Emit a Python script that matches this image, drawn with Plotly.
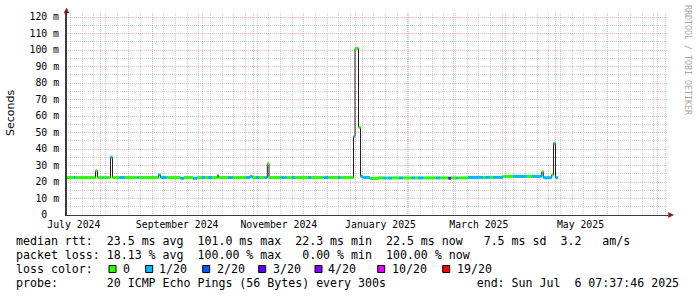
import plotly.graph_objects as go
from datetime import datetime, timedelta

# ------------------------------------------------------------------ data
graph_start = "2024-07-11 07:37:46"
graph_end = "2025-07-06 07:37:46"

# median RTT runs (start time, median ms, lost pings out of 20)
run_start = [
    "2024-07-11 07:37", "2024-07-16 03:00", "2024-07-17 00:30", "2024-07-29 00:30",
    "2024-07-30 05:00", "2024-08-02 08:00", "2024-08-02 22:30", "2024-08-07 00:30",
    "2024-08-08 05:00", "2024-08-12 07:00", "2024-08-15 17:00", "2024-08-23 05:00",
    "2024-08-24 03:00", "2024-09-04 19:30", "2024-09-06 00:30", "2024-09-09 18:00",
    "2024-09-18 00:30", "2024-09-20 03:00", "2024-09-25 12:30", "2024-09-27 22:00",
    "2024-09-30 17:45", "2024-10-02 17:15", "2024-10-04 12:30", "2024-10-06 22:00",
    "2024-10-10 05:00", "2024-10-10 19:40", "2024-10-16 12:30", "2024-10-19 12:30",
    "2024-10-27 07:40", "2024-10-29 17:15", "2024-10-31 05:15", "2024-11-02 07:40",
    "2024-11-04 03:00", "2024-11-07 07:10", "2024-11-09 02:20", "2024-11-10 03:00",
    "2024-11-17 03:20", "2024-11-19 07:10", "2024-11-19 17:15", "2024-11-20 17:45",
    "2024-11-23 17:45", "2024-11-25 17:15", "2024-12-03 12:25", "2024-12-05 07:40",
    "2024-12-12 16:50", "2024-12-15 16:50", "2024-12-21 12:25", "2024-12-23 03:20",
    "2024-12-30 19:40", "2024-12-31 17:15", "2025-01-02 19:35", "2025-01-04 00:25",
    "2025-01-05 12:25", "2025-01-09 17:15", "2025-01-14 12:25", "2025-01-17 12:30",
    "2025-01-19 12:00", "2025-01-20 12:00", "2025-01-22 22:00", "2025-01-27 03:00",
    "2025-01-29 12:30", "2025-02-03 17:40", "2025-02-05 17:15", "2025-02-07 12:30",
    "2025-02-10 16:50", "2025-02-18 07:40", "2025-02-20 17:15", "2025-02-25 16:50",
    "2025-02-27 07:40", "2025-03-02 07:40", "2025-03-03 12:25", "2025-03-09 12:25",
    "2025-03-18 12:25", "2025-03-19 17:15", "2025-03-22 17:15", "2025-03-24 12:30",
    "2025-03-30 12:30", "2025-04-05 12:25", "2025-04-13 22:00", "2025-04-16 22:00",
    "2025-04-22 17:45", "2025-04-23 16:50", "2025-04-28 17:45", "2025-04-29 19:40",
    "2025-05-01 00:25",
]
run_ms = [
    22.7, 22.7, 22.7, 26.8,
    22.7, 22.7, 22.7, 35.1,
    22.7, 22.7, 22.7, 22.7,
    22.7, 24.3, 22.7, 22.7,
    22.2, 22.7, 22.2, 22.7,
    22.7, 22.7, 22.7, 22.7,
    24.0, 22.7, 22.7, 22.7,
    22.7, 23.4, 22.7, 22.7,
    22.7, 22.7, 31.1, 22.7,
    22.7, 22.7, 22.7, 22.7,
    22.7, 22.7, 22.7, 22.7,
    22.7, 22.7, 22.7, 22.7,
    47.6, 101.0, 53.1, 23.4,
    22.7, 22.1, 22.5, 22.4,
    22.4, 22.4, 22.5, 22.5,
    22.5, 22.5, 22.5, 22.5,
    22.5, 22.5, 22.5, 22.3,
    22.5, 22.5, 22.5, 22.8,
    22.8, 22.8, 22.8, 22.8,
    23.4, 23.4, 23.4, 23.4,
    26.2, 22.6, 24.3, 43.4,
    22.6,
]
run_loss = [
    0, 1, 0, 0,
    0, 1, 0, 1,
    0, 1, 0, 1,
    0, 1, 1, 0,
    1, 0, 1, 0,
    1, 0, 1, 0,
    1, 0, 1, 0,
    1, 1, 0, 1,
    0, 1, 0, 0,
    1, 0, 1, 0,
    1, 0, 1, 0,
    1, 0, 1, 0,
    1, 0, 0, 1,
    1, 0, 0, 1,
    0, 1, 0, 1,
    0, 1, 0, 1,
    0, 1, 0, 3,
    0, 1, 0, 1,
    0, 1, 0, 1,
    0, 1, 0, 1,
    0, 1, 0, 1,
    1,
]
data_end = "2025-05-02 12:30"

loss_steps = [0, 1, 2, 3, 4, 10, 19]
loss_labels = ["0", "1/20", "2/20", "3/20", "4/20", "10/20", "19/20"]
loss_colors = ["#26ff00", "#00b8ff", "#0059ff", "#5e00ff", "#7e00ff", "#dd00ff", "#ff0000"]

x_tick_dates = ["2024-07-16", "2024-09-16", "2024-11-16", "2025-01-16", "2025-03-16", "2025-05-16"]
x_tick_labels = ["July 2024", "September 2024", "November 2024", "January 2025", "March 2025", "May 2025"]
y_tick_vals = [0, 10, 20, 30, 40, 50, 60, 70, 80, 90, 100, 110, 120]
y_tick_labels = ["0  ", "10 m", "20 m", "30 m", "40 m", "50 m", "60 m", "70 m",
                 "80 m", "90 m", "100 m", "110 m", "120 m"]

stat_rtt = "median rtt:  23.5 ms avg  101.0 ms max  22.3 ms min  22.5 ms now   7.5 ms sd  3.2   am/s"
stat_loss = "packet loss: 18.13 % avg  100.00 % max   0.00 % min  100.00 % now"
loss_title = "loss color:"
probe_line = "probe:       20 ICMP Echo Pings (56 Bytes) every 300s             end: Sun Jul  6 07:37:46 2025"
y_title = "Seconds"
watermark = "RRDTOOL / TOBI OETIKER"

# ------------------------------------------------------------------ layout constants
W, H = 697, 297
L, R, T, B = 66, 668, 13, 215
PW, PH = R - L, B - T
PX_PER_MS = 1.65
PX_PER_DAY = 600 / 360.0

MONO = "DejaVu Sans Mono"
GRID = "rgba(150,150,150,0.45)"
MGRID = "rgba(225,90,90,0.45)"
AXIS = "#3a3a3a"
ARROW = "#8b1a1a"


def nb(s):
    return s.replace(" ", "\u00a0")


def pxx(x):
    return (x - L) / PW


def pxy(y):
    return (B - y) / PH


t0 = datetime.strptime(graph_start, "%Y-%m-%d %H:%M:%S")
x_range = [t0, t0 + timedelta(days=PW / PX_PER_DAY)]
y_range = [0, PH / PX_PER_MS]

fig = go.Figure()

# thin dark median line (shows the vertical jumps)
fig.add_trace(go.Scatter(
    x=run_start + [data_end], y=run_ms + [run_ms[-1]],
    mode="lines", line=dict(color="#202020", width=1, shape="hv"),
    hoverinfo="skip", showlegend=False,
))

ends = run_start[1:] + [data_end]
for step, color in zip(loss_steps, loss_colors):
    xs, ys = [], []
    for s, e, v, l in zip(run_start, ends, run_ms, run_loss):
        if l == step:
            xs += [s, e, None]
            ys += [v, v, None]
    if xs:
        fig.add_trace(go.Scatter(
            x=xs, y=ys, mode="lines", line=dict(color=color, width=3),
            connectgaps=False, hoverinfo="skip", showlegend=False,
        ))

# dummy trace for the label axis
fig.add_trace(go.Scatter(x=[x_tick_dates[0]], y=[None], xaxis="x2", mode="markers",
                         hoverinfo="skip", showlegend=False))

fig.update_layout(
    width=W, height=H, autosize=False,
    margin=dict(l=L, r=W - R, t=T, b=H - B, pad=0),
    paper_bgcolor="white", plot_bgcolor="white",
    showlegend=False,
    font=dict(family=MONO, size=9.8, color="#000000"),
    xaxis=dict(
        type="date", range=x_range, fixedrange=True,
        tickmode="linear", tick0="2024-08-01", dtick="M1",
        showticklabels=False, ticks="",
        showgrid=True, gridcolor=MGRID, gridwidth=1, griddash="1px,1px",
        minor=dict(tickmode="linear", tick0="2024-07-14", dtick=7 * 86400000,
                   showgrid=True, gridcolor=GRID, gridwidth=1, griddash="1px,1px"),
        showline=True, linecolor=AXIS, linewidth=1, zeroline=False,
    ),
    xaxis2=dict(
        type="date", range=x_range, overlaying="x", side="bottom", anchor="y",
        tickmode="array", tickvals=x_tick_dates, ticktext=[nb(t) for t in x_tick_labels],
        tickfont=dict(family=MONO, size=9.8, color="#000000"),
        showgrid=False, ticks="", showline=False, zeroline=False, fixedrange=True,
        ticklabelstandoff=2,
    ),
    yaxis=dict(
        range=y_range, fixedrange=True,
        tickmode="array", tickvals=y_tick_vals, ticktext=[nb(t) for t in y_tick_labels],
        tickfont=dict(family=MONO, size=9.8, color="#000000"),
        showgrid=True, gridcolor=MGRID, gridwidth=1, griddash="1px,1px",
        minor=dict(tickmode="array", tickvals=[v + 5 for v in y_tick_vals[:-1]],
                   showgrid=True, gridcolor=GRID, gridwidth=1, griddash="1px,1px"),
        showline=True, linecolor=AXIS, linewidth=1, zeroline=False, ticks="",
        ticklabelstandoff=4,
    ),
)

shapes = []
# y axis extension up to the arrow, and axis arrows
shapes.append(dict(type="line", xref="paper", yref="paper",
                   x0=pxx(66.5), x1=pxx(66.5), y0=pxy(215), y1=pxy(11),
                   line=dict(color=AXIS, width=1), layer="above"))
shapes.append(dict(type="path", xref="paper", yref="paper", layer="above",
                   path=f"M {pxx(64.0)},{pxy(13.0)} L {pxx(66.5)},{pxy(8.0)} L {pxx(69.0)},{pxy(13.0)} Z",
                   fillcolor=ARROW, line=dict(color=ARROW, width=0.5)))
shapes.append(dict(type="path", xref="paper", yref="paper", layer="above",
                   path=f"M {pxx(668.5)},{pxy(212.5)} L {pxx(673.5)},{pxy(215)} L {pxx(668.5)},{pxy(217.5)} Z",
                   fillcolor=ARROW, line=dict(color=ARROW, width=0.5)))

annotations = []
FS = 11.6


def text_at(x, y, s, size=FS, color="#000000", family=MONO, angle=0, xanchor="left"):
    annotations.append(dict(
        x=pxx(x), y=pxy(y), xref="paper", yref="paper", text=nb(s), showarrow=False,
        xanchor=xanchor, yanchor="middle", textangle=angle, borderpad=0, borderwidth=0,
        font=dict(family=family, size=size, color=color),
    ))


text_at(10, 113, y_title, size=11, family="DejaVu Sans", angle=-90, xanchor="center")
text_at(688, 60, watermark, size=8.3, color="#a8a8a8", angle=90, xanchor="center")
text_at(16, 241, stat_rtt)
text_at(16, 255, stat_loss)
text_at(16, 269, loss_title)
text_at(16, 283, probe_line)

swatch_x = [109, 145.7, 202.7, 258.7, 315, 377.7, 442.7]
label_x = [122.7, 159.3, 216.7, 273.3, 328.3, 391.7, 456.7]
for sx, lx, lab, col in zip(swatch_x, label_x, loss_labels, loss_colors):
    shapes.append(dict(type="rect", xref="paper", yref="paper",
                       x0=pxx(sx), x1=pxx(sx + 7), y0=pxy(272.5), y1=pxy(265.5),
                       fillcolor=col, line=dict(color="#000000", width=1)))
    text_at(lx, 269, lab)

fig.update_layout(shapes=shapes, annotations=annotations)
fig.write_html("out.html")
